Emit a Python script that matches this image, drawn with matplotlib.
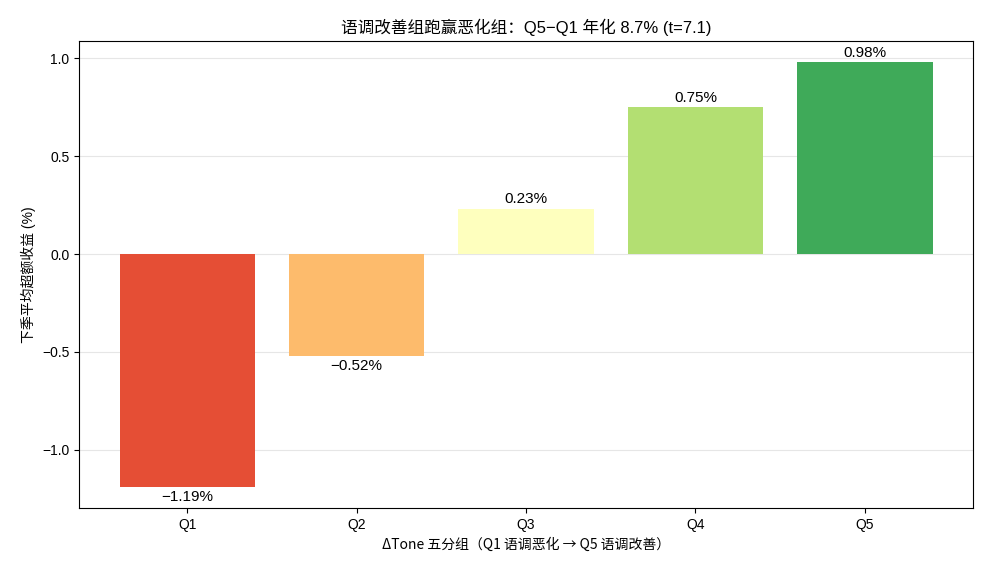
import numpy as np
import matplotlib.pyplot as plt
from matplotlib import cm

plt.rcParams['font.family'] = ['Liberation Sans', 'Noto Sans CJK SC', 'DejaVu Sans']
plt.rcParams['axes.unicode_minus'] = True

groups = ["Q1", "Q2", "Q3", "Q4", "Q5"]
excess_ret = [-1.19, -0.52, 0.23, 0.75, 0.98]
cmap_pos = [0.15, 0.325, 0.5, 0.675, 0.85]

colors = [cm.RdYlGn(p) for p in cmap_pos]

fig, ax = plt.subplots(figsize=(9.9, 5.72), dpi=100)
fig.subplots_adjust(left=0.0798, right=0.983, top=0.928, bottom=0.112)
x = np.arange(len(groups))
bars = ax.bar(x, excess_ret, color=colors, width=0.8)
ax.set_axisbelow(True)
ax.grid(True, axis="y", color="#e6e6e6", linewidth=0.8)

for b, v in zip(bars, excess_ret):
    label = f"{v:.2f}%".replace("-", "\u2212")
    if v >= 0:
        ax.annotate(label, (b.get_x() + b.get_width() / 2, v), xytext=(0, 2),
                    textcoords="offset points", ha="center", va="bottom", fontsize=11)
    else:
        ax.annotate(label, (b.get_x() + b.get_width() / 2, v), xytext=(0, -2.5),
                    textcoords="offset points", ha="center", va="top", fontsize=11)

ax.set_xticks(x)
ax.set_xticklabels(groups)
ax.tick_params(labelsize=10)
ax.set_title("语调改善组跑赢恶化组：Q5−Q1 年化 8.7% (t=7.1)", fontsize=12)
ax.set_ylabel("下季平均超额收益 (%)", fontsize=10)
ax.set_xlabel("ΔTone 五分组（Q1 语调恶化 → Q5 语调改善）", fontsize=10,
              family=['Noto Sans CJK SC', 'DejaVu Sans'])

plt.savefig("out.png")
plt.close()
